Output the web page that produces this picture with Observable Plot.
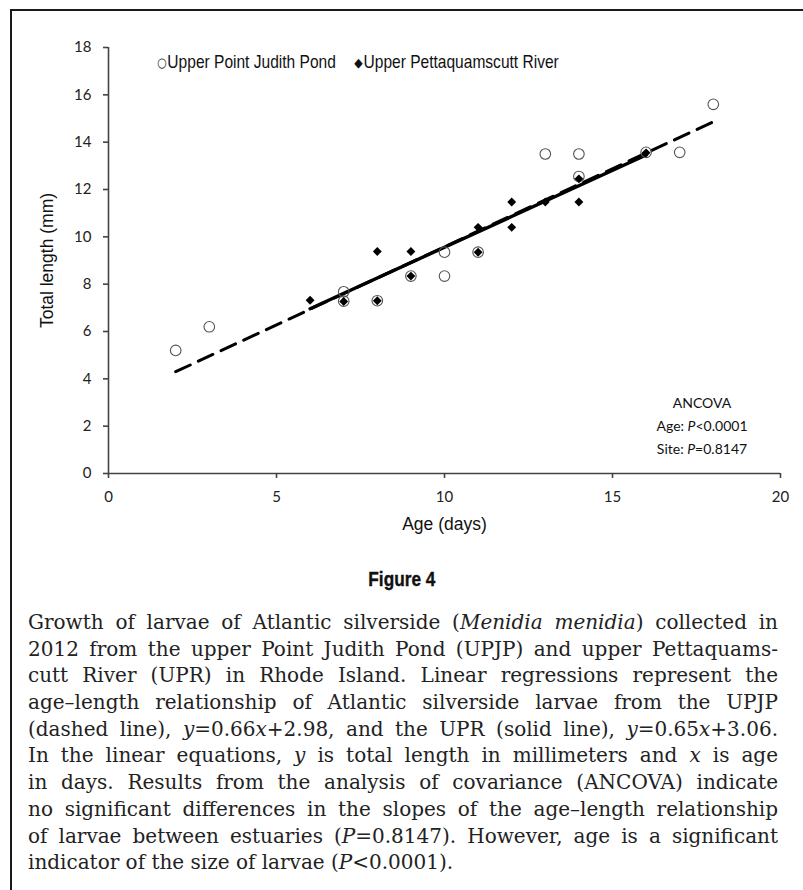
<!DOCTYPE html>
<html>
<head>
<meta charset="utf-8">
<script src="https://cdn.jsdelivr.net/npm/d3@7"></script>
<script src="https://cdn.jsdelivr.net/npm/@observablehq/plot@0.6"></script>
<style>
  body { margin: 0; background: #fff; }
  #page { position: relative; width: 803px; height: 890px; overflow: hidden; background: #fff; }
  #frame { position: absolute; left: 10px; top: 9px; width: 830px; height: 920px;
           border-left: 2.5px solid #1a1a1a; border-top: 2.5px solid #1a1a1a; }
  #chart { position: absolute; left: 0; top: 0; }
  #legend { position: absolute; left: 157px; top: 51px; white-space: nowrap;
            font: 18.5px "Liberation Sans", Arial, sans-serif; color: #111;
            transform: scaleX(0.84); transform-origin: 0 0; }
  #legend .sym { font-family: "DejaVu Sans", sans-serif; font-size: 13px; position: relative; top: -1px; margin-right: 1px; }
  #legend .item2 { margin-left: 22px; }
  #ancova { position: absolute; left: 643px; top: 391px; width: 118px; text-align: center;
            font: 14px Lato, "Open Sans", sans-serif; line-height: 23px; color: #111; }
  #figtitle { position: absolute; left: 0; width: 803px; top: 567px; text-align: center; }
  #figtitle span { display: inline-block; font: bold 21px "Liberation Sans", Arial, sans-serif; color: #111;
                   transform: scaleX(0.82); -webkit-text-stroke: 0.4px #111; }
  #caption { position: absolute; left: 28px; top: 609px; width: 750px;
             font: 20px "DejaVu Serif", serif; line-height: 26.7px; color: #222; }
  #caption .ln { white-space: nowrap; height: 26.7px; }
</style>
</head>
<body>
<div id="page">
  <div id="frame"></div>
  <div id="chart"></div>
  <div id="legend"></div>
  <div id="ancova"></div>
  <div id="figtitle"></div>
  <div id="caption"></div>
</div>
<script>
// ---- data ----
const seriesNames = ["Upper Point Judith Pond", "Upper Pettaquamscutt River"];
const upjpAge = [2, 3, 7, 7, 8, 9, 10, 10, 11, 13, 14, 14, 16, 17, 18];
const upjpLen = [5.2, 6.2, 7.68, 7.28, 7.3, 8.34, 9.35, 8.34, 9.35, 13.5, 13.5, 12.55, 13.57, 13.57, 15.6];
const uprAge = [6, 7, 8, 8, 9, 9, 11, 11, 12, 12, 13, 14, 14, 16];
const uprLen = [7.32, 7.27, 9.38, 7.3, 9.38, 8.34, 9.35, 10.4, 11.47, 10.4, 11.47, 12.45, 11.47, 13.55];
const upjpFitAge = [2, 18];
const upjpFitLen = [4.30, 14.86];
const uprFitAge = [6, 16];
const uprFitLen = [6.96, 13.46];
const xTicks = [0, 5, 10, 15, 20];
const yTicks = [0, 2, 4, 6, 8, 10, 12, 14, 16, 18];
const xTitle = "Age (days)";
const yTitle = "Total length (mm)";
const ancovaLines = ["ANCOVA", "Age: <i>P</i>&lt;0.0001", "Site: <i>P</i>=0.8147"];
const figTitle = "Figure 4";
const captionLines = [
  "Growth of larvae of Atlantic silverside (<i>Menidia menidia</i>) collected in",
  "2012 from the upper Point Judith Pond (UPJP) and upper Pettaquams-",
  "cutt River (UPR) in Rhode Island. Linear regressions represent the",
  "age–length relationship of Atlantic silverside larvae from the UPJP",
  "(dashed line), <i>y</i>=0.66<i>x</i>+2.98, and the UPR (solid line), <i>y</i>=0.65<i>x</i>+3.06.",
  "In the linear equations, <i>y</i> is total length in millimeters and <i>x</i> is age",
  "in days. Results from the analysis of covariance (ANCOVA) indicate",
  "no significant differences in the slopes of the age–length relationship",
  "of larvae between estuaries (<i>P</i>=0.8147). However, age is a significant",
  "indicator of the size of larvae (<i>P</i>&lt;0.0001)."
];

// ---- tables ----
const upjp = upjpAge.map((a, i) => ({age: a, len: upjpLen[i]}));
const upr = uprAge.map((a, i) => ({age: a, len: uprLen[i]}));
const upjpFit = upjpFitAge.map((a, i) => ({age: a, len: upjpFitLen[i]}));
const uprFit = uprFitAge.map((a, i) => ({age: a, len: uprFitLen[i]}));

const axisColor = "#444";
const chart = Plot.plot({
  width: 803,
  height: 560,
  marginLeft: 108,
  marginRight: 23,
  marginTop: 47,
  marginBottom: 87,
  style: {fontFamily: "Lato, 'Open Sans', sans-serif", fontSize: "14px", color: "#222", background: "transparent"},
  x: {domain: [0, 20]},
  y: {domain: [0, 18]},
  marks: [
    Plot.ruleY([0], {stroke: axisColor, strokeWidth: 1.6}),
    Plot.ruleX([0], {stroke: axisColor, strokeWidth: 1.6}),
    Plot.axisX({ticks: xTicks, tickSize: 5, tickPadding: 13, stroke: axisColor, strokeWidth: 1.6, fontSize: 15, label: null}),
    Plot.axisY({ticks: yTicks, tickSize: 5, tickPadding: 12, stroke: axisColor, strokeWidth: 1.6, fontSize: 15, label: null}),
    Plot.text([xTitle], {text: d => d, frameAnchor: "bottom", dy: 51, lineAnchor: "middle",
      fontFamily: "'Liberation Sans', Arial, sans-serif", fontSize: 17.5, fill: "#111"}),
    Plot.text([yTitle], {text: d => d, frameAnchor: "left", dx: -61, rotate: -90, textAnchor: "middle", lineAnchor: "middle",
      fontFamily: "'Liberation Sans', Arial, sans-serif", fontSize: 17.5, fill: "#111"}),
    Plot.line(upjpFit, {x: "age", y: "len", stroke: "#000", strokeWidth: 3, strokeDasharray: "16,9"}),
    Plot.line(uprFit, {x: "age", y: "len", stroke: "#000", strokeWidth: 3.4}),
    Plot.dot(upjp, {x: "age", y: "len", r: 5.3, stroke: "#555", strokeWidth: 1.1, fill: "none"}),
    Plot.dot(upr, {x: "age", y: "len", symbol: "diamond2", r: 4, fill: "#000", stroke: "none"})
  ]
});
document.getElementById("chart").appendChild(chart);

// legend
document.getElementById("legend").innerHTML =
  `<span class="sym">○</span>${seriesNames[0]}<span class="item2"><span class="sym">◆</span>${seriesNames[1]}</span>`;

// annotation
document.getElementById("ancova").innerHTML = ancovaLines.map(l => `<div>${l}</div>`).join("");

// title and caption
document.getElementById("figtitle").innerHTML = `<span>${figTitle}</span>`;
const cap = document.getElementById("caption");
cap.innerHTML = captionLines.map(l => `<div class="ln"><span>${l}</span></div>`).join("");
const lines = Array.from(cap.querySelectorAll(".ln span"));
const W = 750;
let maxW = d3.max(lines, s => s.getBoundingClientRect().width);
if (maxW > W - 4) {
  const fs = 20 * (W - 4) / maxW;
  cap.style.fontSize = fs + "px";
}
lines.forEach((span, i) => {
  if (i === lines.length - 1) return;
  const w = span.getBoundingClientRect().width;
  const n = (span.textContent.match(/ /g) || []).length;
  if (n > 0) span.style.wordSpacing = ((W - w) / n) + "px";
});
</script>
</body>
</html>
